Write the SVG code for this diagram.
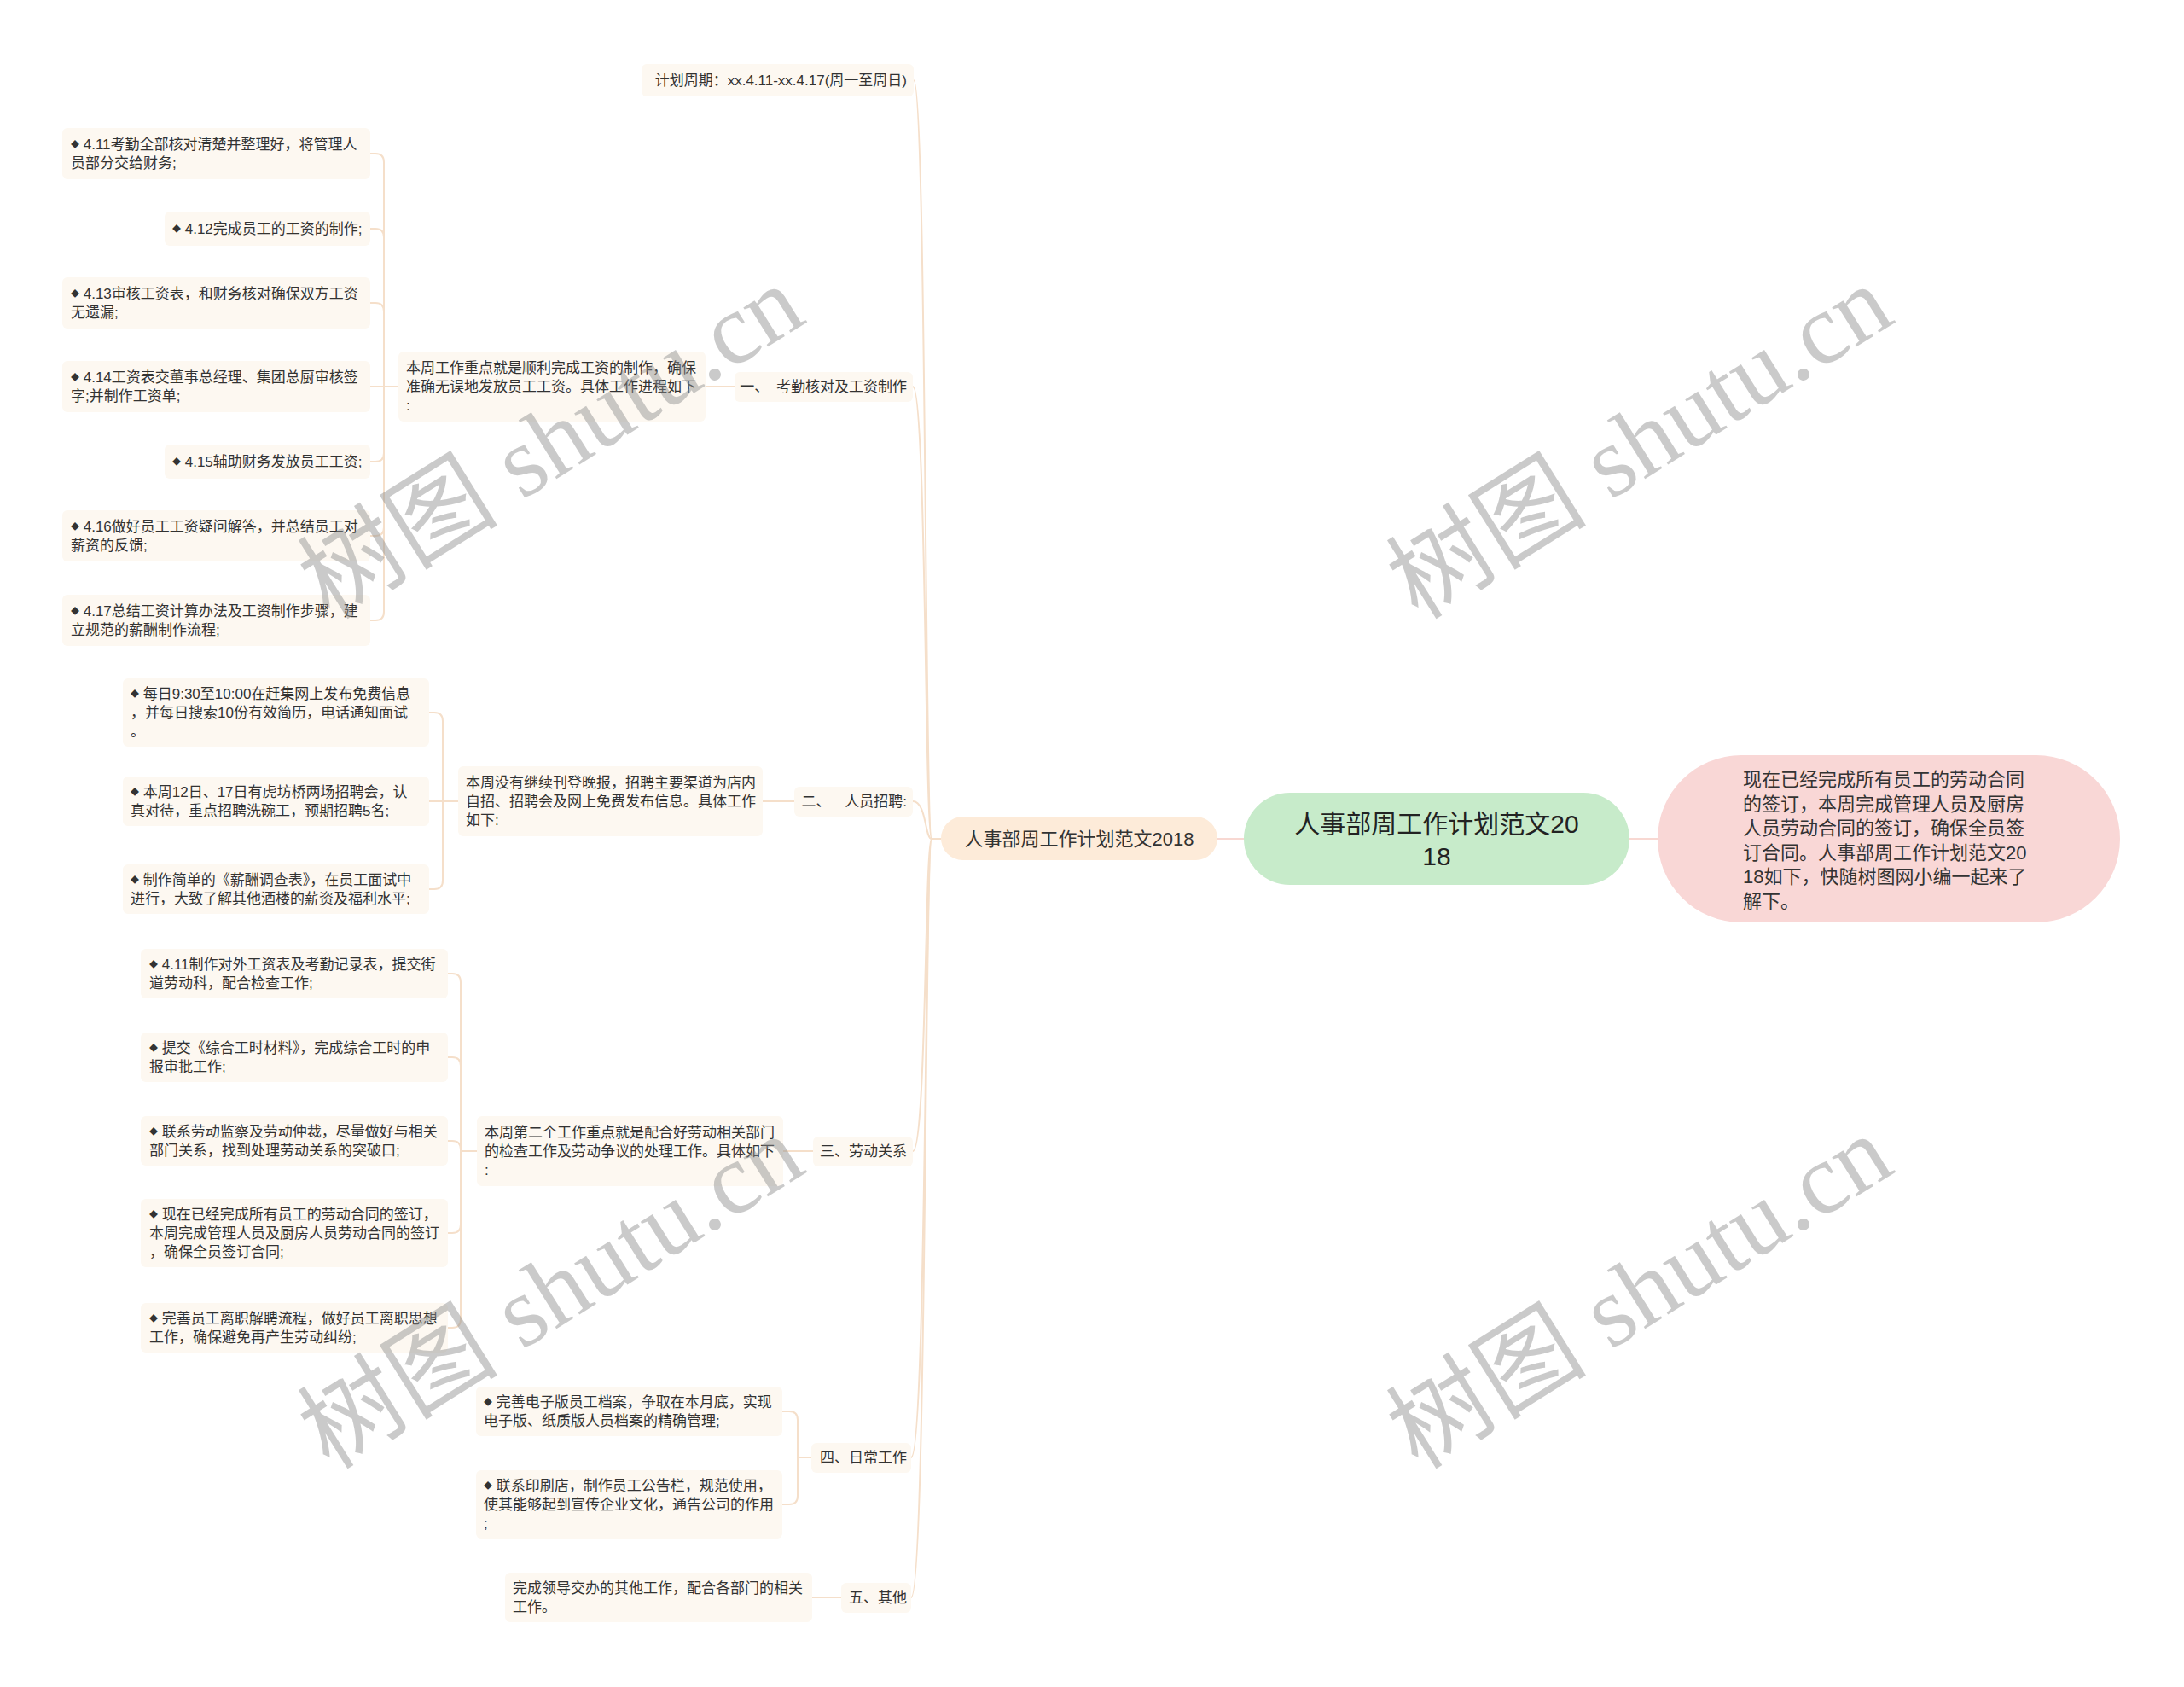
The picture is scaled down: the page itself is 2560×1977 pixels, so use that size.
<svg xmlns="http://www.w3.org/2000/svg" width="2560" height="1977" viewBox="0 0 2560 1977">
<style>
.t{font-family:"Liberation Sans","Noto Sans CJK SC",sans-serif;font-size:17px;fill:#333}
.e{text-anchor:end}
.box{fill:#fdf8f1}
.ln{fill:none;stroke:#f5dfca;stroke-width:2}
.lr{fill:none;stroke:#f8d8d2;stroke-width:2}
.b{font-size:10px}
.wm{font-family:"Liberation Serif","Noto Sans CJK SC",serif;font-size:118px;fill:#8c8c8c;opacity:0.45;text-anchor:middle}
</style>
<rect width="2560" height="1977" fill="#ffffff"/>
<g id="connectors">
<path class="lr" d="M1427 983H1458M1910 983H1943"/>
<path class="ln" d="M1103 983H1092C1084 983 1086 94 1071 94"/>
<path class="ln" d="M1103 983H1092C1084 983 1086 453 1070 453"/>
<path class="ln" d="M1103 983H1092C1084 983 1086 939 1070 939"/>
<path class="ln" d="M1103 983H1092C1084 983 1086 1349 1070 1349"/>
<path class="ln" d="M1103 983H1092C1084 983 1086 1708 1068 1708"/>
<path class="ln" d="M1103 983H1092C1084 983 1086 1872 1068 1872"/>
<path class="ln" d="M827 453H861M894 939H931M918 1349H953M952 1872H986"/>
<path class="ln" d="M467 453H450V190Q450 180 440 180H434M467 453H450V278Q450 268 440 268H434M467 453H450V365Q450 355 440 355H434M467 453H434M467 453H450V531Q450 541 440 541H434M467 453H450V618Q450 628 440 628H434M467 453H450V717Q450 727 440 727H434"/>
<path class="ln" d="M537 939H519V845Q519 835 509 835H503M537 939H503M537 939H519V1032Q519 1042 509 1042H503"/>
<path class="ln" d="M559 1349H540V1151Q540 1141 530 1141H525M559 1349H540V1249Q540 1239 530 1239H525M559 1349H540V1347Q540 1337 530 1337H525M559 1349H540V1435Q540 1445 530 1445H525M559 1349H540V1546Q540 1556 530 1556H525"/>
<path class="ln" d="M951 1708H935V1664Q935 1654 925 1654H917M951 1708H935V1753Q935 1763 925 1763H917"/>
</g>
<g id="node-pink">
<rect x="1943" y="885" width="542" height="196" rx="98" fill="#f9d7d6"/>
<text class="t" style="font-size:22px" x="2043" y="921">现在已经完成所有员工的劳动合同</text>
<text class="t" style="font-size:22px" x="2043" y="950">的签订，本周完成管理人员及厨房</text>
<text class="t" style="font-size:22px" x="2043" y="978">人员劳动合同的签订，确保全员签</text>
<text class="t" style="font-size:22px" x="2043" y="1007">订合同。人事部周工作计划范文20</text>
<text class="t" style="font-size:22px" x="2043" y="1035">18如下，快随树图网小编一起来了</text>
<text class="t" style="font-size:22px" x="2043" y="1064">解下。</text>
</g>
<g id="node-root">
<rect x="1458" y="929" width="452" height="108" rx="54" fill="#c7ebca"/>
<text class="t" style="font-size:30px;fill:#222;text-anchor:middle" x="1684" y="976">人事部周工作计划范文20</text>
<text class="t" style="font-size:30px;fill:#222;text-anchor:middle" x="1684" y="1014">18</text>
</g>
<g id="node-main">
<rect x="1103" y="957" width="324" height="51" rx="25.5" fill="#fdebd9"/>
<text class="t" style="font-size:22px;text-anchor:middle" x="1265" y="991">人事部周工作计划范文2018</text>
</g>
<g id="node-period">
<rect class="box" x="752" y="75" width="319" height="38" rx="6"/>
<text class="t e" x="1063" y="100">计划周期：xx.4.11-xx.4.17(周一至周日)</text>
</g>
<g id="node-s1">
<rect class="box" x="861" y="436" width="209" height="35" rx="6"/>
<text class="t e" x="1063" y="459">一、 <tspan dx="4">考勤核对及工资制作</tspan></text>
</g>
<g id="node-s1-desc">
<rect class="box" x="467" y="412" width="360" height="82" rx="6"/>
<text class="t" x="476" y="437">本周工作重点就是顺利完成工资的制作，确保</text>
<text class="t" x="476" y="459">准确无误地发放员工工资。具体工作进程如下</text>
<text class="t" x="476" y="481">:</text>
</g>
<g id="leaf-1-1">
<rect class="box" x="73" y="150" width="361" height="60" rx="6"/>
<text class="t" x="83" y="175"><tspan class="b" dy="-2">◆</tspan><tspan dy="2"> 4.11考勤全部核对清楚并整理好，将管理人</tspan></text>
<text class="t" x="83" y="197">员部分交给财务;</text>
</g>
<g id="leaf-1-2">
<rect class="box" x="193" y="248" width="241" height="40" rx="6"/>
<text class="t" x="202" y="274"><tspan class="b" dy="-2">◆</tspan><tspan dy="2"> 4.12完成员工的工资的制作;</tspan></text>
</g>
<g id="leaf-1-3">
<rect class="box" x="73" y="325" width="361" height="60" rx="6"/>
<text class="t" x="83" y="350"><tspan class="b" dy="-2">◆</tspan><tspan dy="2"> 4.13审核工资表，和财务核对确保双方工资</tspan></text>
<text class="t" x="83" y="372">无遗漏;</text>
</g>
<g id="leaf-1-4">
<rect class="box" x="73" y="423" width="361" height="60" rx="6"/>
<text class="t" x="83" y="448"><tspan class="b" dy="-2">◆</tspan><tspan dy="2"> 4.14工资表交董事总经理、集团总厨审核签</tspan></text>
<text class="t" x="83" y="470">字;并制作工资单;</text>
</g>
<g id="leaf-1-5">
<rect class="box" x="193" y="521" width="241" height="40" rx="6"/>
<text class="t" x="202" y="547"><tspan class="b" dy="-2">◆</tspan><tspan dy="2"> 4.15辅助财务发放员工工资;</tspan></text>
</g>
<g id="leaf-1-6">
<rect class="box" x="73" y="598" width="361" height="60" rx="6"/>
<text class="t" x="83" y="623"><tspan class="b" dy="-2">◆</tspan><tspan dy="2"> 4.16做好员工工资疑问解答，并总结员工对</tspan></text>
<text class="t" x="83" y="645">薪资的反馈;</text>
</g>
<g id="leaf-1-7">
<rect class="box" x="73" y="697" width="361" height="60" rx="6"/>
<text class="t" x="83" y="722"><tspan class="b" dy="-2">◆</tspan><tspan dy="2"> 4.17总结工资计算办法及工资制作步骤，建</tspan></text>
<text class="t" x="83" y="744">立规范的薪酬制作流程;</text>
</g>
<g id="node-s2">
<rect class="box" x="931" y="922" width="139" height="35" rx="6"/>
<text class="t e" x="1063" y="945">二、 <tspan dx="12">人员招聘:</tspan></text>
</g>
<g id="node-s2-desc">
<rect class="box" x="537" y="898" width="357" height="82" rx="6"/>
<text class="t" x="546" y="923">本周没有继续刊登晚报，招聘主要渠道为店内</text>
<text class="t" x="546" y="945">自招、招聘会及网上免费发布信息。具体工作</text>
<text class="t" x="546" y="967">如下:</text>
</g>
<g id="leaf-2-1">
<rect class="box" x="144" y="795" width="359" height="80" rx="6"/>
<text class="t" x="153" y="819"><tspan class="b" dy="-2">◆</tspan><tspan dy="2"> 每日9:30至10:00在赶集网上发布免费信息</tspan></text>
<text class="t" x="153" y="841">，并每日搜索10份有效简历，电话通知面试</text>
<text class="t" x="153" y="863">。</text>
</g>
<g id="leaf-2-2">
<rect class="box" x="144" y="910" width="359" height="58" rx="6"/>
<text class="t" x="153" y="934"><tspan class="b" dy="-2">◆</tspan><tspan dy="2"> 本周12日、17日有虎坊桥两场招聘会，认</tspan></text>
<text class="t" x="153" y="956">真对待，重点招聘洗碗工，预期招聘5名;</text>
</g>
<g id="leaf-2-3">
<rect class="box" x="144" y="1013" width="359" height="58" rx="6"/>
<text class="t" x="153" y="1037"><tspan class="b" dy="-2">◆</tspan><tspan dy="2"> 制作简单的《薪酬调查表》，在员工面试中</tspan></text>
<text class="t" x="153" y="1059">进行，大致了解其他酒楼的薪资及福利水平;</text>
</g>
<g id="node-s3">
<rect class="box" x="953" y="1332" width="117" height="35" rx="6"/>
<text class="t e" x="1063" y="1355">三、劳动关系</text>
</g>
<g id="node-s3-desc">
<rect class="box" x="559" y="1308" width="359" height="82" rx="6"/>
<text class="t" x="568" y="1333">本周第二个工作重点就是配合好劳动相关部门</text>
<text class="t" x="568" y="1355">的检查工作及劳动争议的处理工作。具体如下</text>
<text class="t" x="568" y="1377">:</text>
</g>
<g id="leaf-3-1">
<rect class="box" x="165" y="1112" width="360" height="58" rx="6"/>
<text class="t" x="175" y="1136"><tspan class="b" dy="-2">◆</tspan><tspan dy="2"> 4.11制作对外工资表及考勤记录表，提交街</tspan></text>
<text class="t" x="175" y="1158">道劳动科，配合检查工作;</text>
</g>
<g id="leaf-3-2">
<rect class="box" x="165" y="1210" width="360" height="58" rx="6"/>
<text class="t" x="175" y="1234"><tspan class="b" dy="-2">◆</tspan><tspan dy="2"> 提交《综合工时材料》，完成综合工时的申</tspan></text>
<text class="t" x="175" y="1256">报审批工作;</text>
</g>
<g id="leaf-3-3">
<rect class="box" x="165" y="1308" width="360" height="58" rx="6"/>
<text class="t" x="175" y="1332"><tspan class="b" dy="-2">◆</tspan><tspan dy="2"> 联系劳动监察及劳动仲裁，尽量做好与相关</tspan></text>
<text class="t" x="175" y="1354">部门关系，找到处理劳动关系的突破口;</text>
</g>
<g id="leaf-3-4">
<rect class="box" x="165" y="1405" width="360" height="80" rx="6"/>
<text class="t" x="175" y="1429"><tspan class="b" dy="-2">◆</tspan><tspan dy="2"> 现在已经完成所有员工的劳动合同的签订，</tspan></text>
<text class="t" x="175" y="1451">本周完成管理人员及厨房人员劳动合同的签订</text>
<text class="t" x="175" y="1473">，确保全员签订合同;</text>
</g>
<g id="leaf-3-5">
<rect class="box" x="165" y="1527" width="360" height="58" rx="6"/>
<text class="t" x="175" y="1551"><tspan class="b" dy="-2">◆</tspan><tspan dy="2"> 完善员工离职解聘流程，做好员工离职思想</tspan></text>
<text class="t" x="175" y="1573">工作，确保避免再产生劳动纠纷;</text>
</g>
<g id="node-s4">
<rect class="box" x="951" y="1691" width="117" height="35" rx="6"/>
<text class="t e" x="1063" y="1714">四、日常工作</text>
</g>
<g id="leaf-4-1">
<rect class="box" x="558" y="1625" width="359" height="58" rx="6"/>
<text class="t" x="567" y="1649"><tspan class="b" dy="-2">◆</tspan><tspan dy="2"> 完善电子版员工档案，争取在本月底，实现</tspan></text>
<text class="t" x="567" y="1671">电子版、纸质版人员档案的精确管理;</text>
</g>
<g id="leaf-4-2">
<rect class="box" x="558" y="1723" width="359" height="80" rx="6"/>
<text class="t" x="567" y="1747"><tspan class="b" dy="-2">◆</tspan><tspan dy="2"> 联系印刷店，制作员工公告栏，规范使用，</tspan></text>
<text class="t" x="567" y="1769">使其能够起到宣传企业文化，通告公司的作用</text>
<text class="t" x="567" y="1791">;</text>
</g>
<g id="node-s5">
<rect class="box" x="986" y="1855" width="82" height="35" rx="6"/>
<text class="t e" x="1063" y="1878">五、其他</text>
</g>
<g id="node-s5-desc">
<rect class="box" x="592" y="1843" width="360" height="58" rx="6"/>
<text class="t" x="601" y="1867">完成领导交办的其他工作，配合各部门的相关</text>
<text class="t" x="601" y="1889">工作。</text>
</g>
<g id="watermarks">
<text class="wm" transform="translate(667,552) rotate(-32)">树图 shutu.cn</text>
<text class="wm" transform="translate(1943,552) rotate(-32)">树图 shutu.cn</text>
<text class="wm" transform="translate(667,1548) rotate(-32)">树图 shutu.cn</text>
<text class="wm" transform="translate(1943,1548) rotate(-32)">树图 shutu.cn</text>
</g>
</svg>
